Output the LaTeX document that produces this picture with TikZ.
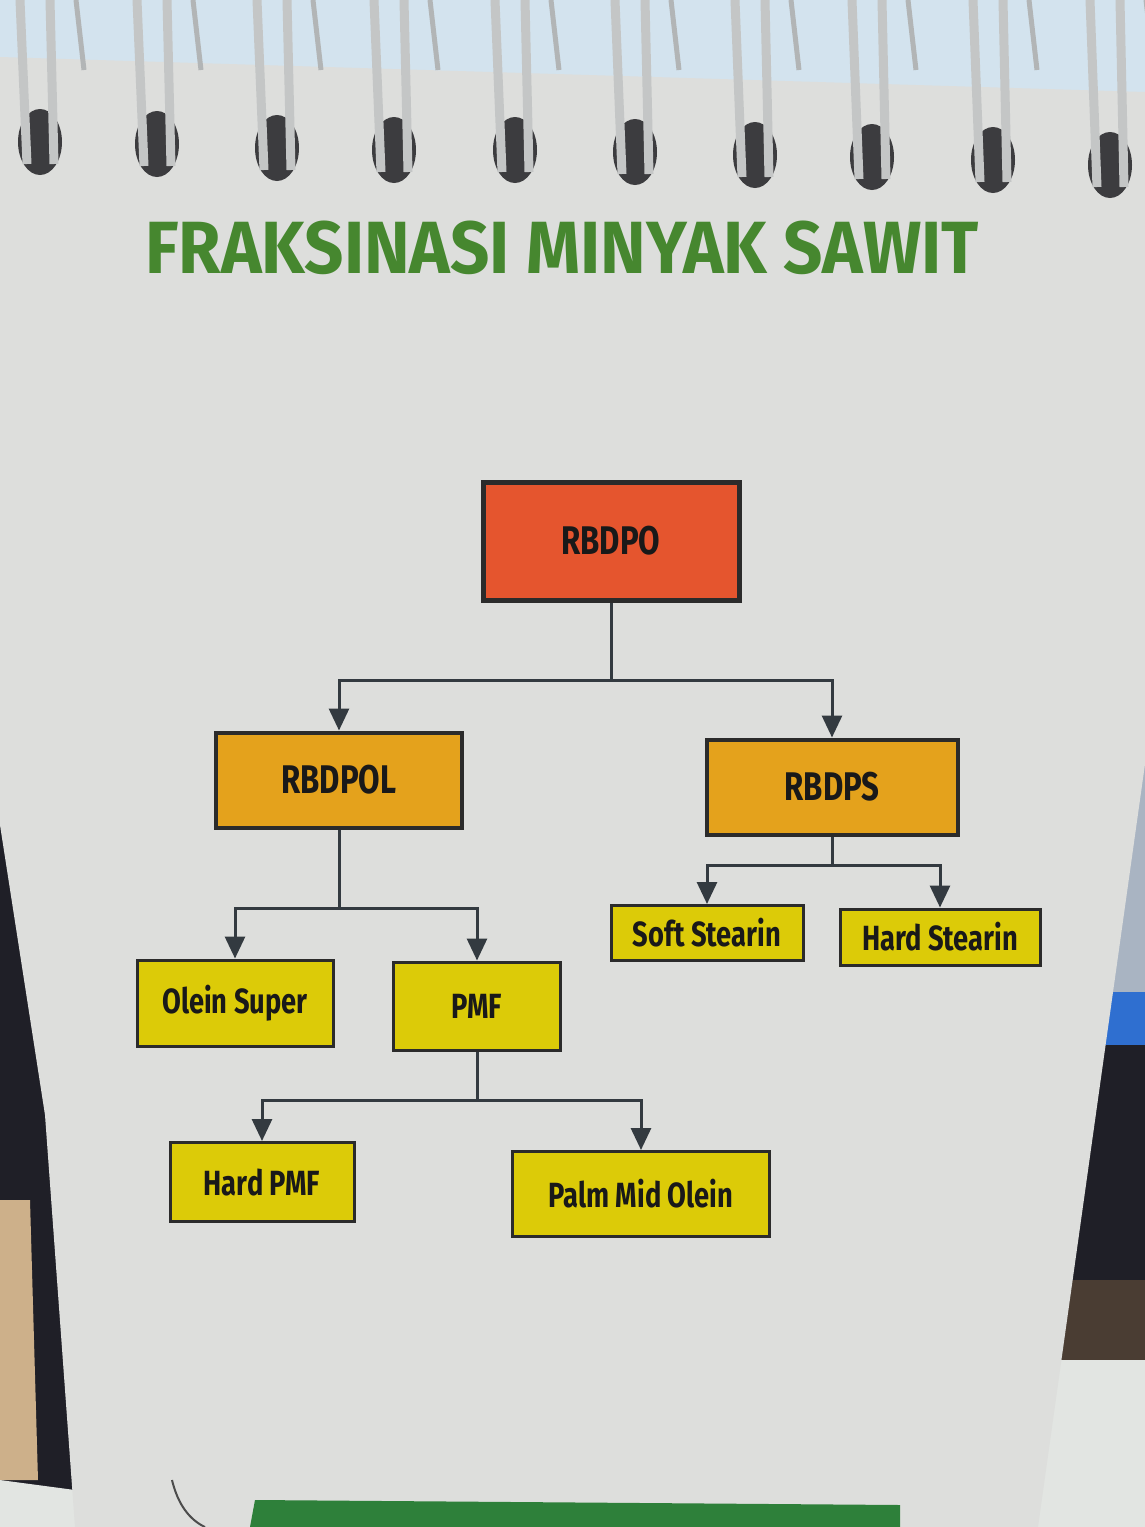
\documentclass[tikz,border=0pt]{standalone}
\usepackage{fontspec}
\usetikzlibrary{arrows.meta}
\newfontfamily\condfont[FakeStretch=0.78]{Fira Sans}
\newfontfamily\titlefont[FakeStretch=0.93]{Fira Sans}
\definecolor{pagegray}{HTML}{DDDEDC}
\definecolor{skyblue}{HTML}{D3E3EE}
\definecolor{titlegreen}{HTML}{46872F}
\definecolor{redorange}{HTML}{E5552E}
\definecolor{amber}{HTML}{E4A21C}
\definecolor{lemon}{HTML}{DCCB08}
\definecolor{edgedark}{HTML}{2B2B2B}
\definecolor{linedark}{HTML}{333A40}
\definecolor{wire}{HTML}{C4C6C6}
\definecolor{wireback}{HTML}{B2B5B6}
\definecolor{holedark}{HTML}{3C3C3F}
\definecolor{deskdark}{HTML}{1F1F27}
\definecolor{wood}{HTML}{CDB08A}
\definecolor{bluegray}{HTML}{A9B4C2}
\definecolor{screenblue}{HTML}{2F6FD0}
\definecolor{brownish}{HTML}{4A3D33}
\definecolor{lightdesk}{HTML}{E2E5E2}
\definecolor{bandgreen}{HTML}{2E803A}
\tikzset{
  boxbase/.style={rectangle, draw=edgedark, inner sep=0pt, text=black!90},
  topbox/.style={boxbase, fill=redorange, line width=2.5pt, font=\condfont\bfseries\fontsize{20}{22}\selectfont},
  midbox/.style={boxbase, fill=amber, line width=2pt, font=\condfont\bfseries\fontsize{20}{22}\selectfont},
  leafbox/.style={boxbase, fill=lemon, line width=1.5pt, font=\condfont\bfseries\fontsize{17.5}{20}\selectfont},
  conn/.style={draw=linedark, line width=1.5pt},
  arr/.style={conn, -{Triangle[width=10pt,length=11pt]}}
}
\begin{document}
\begin{tikzpicture}[x=0.5pt,y=-0.5pt]
\useasboundingbox (0,0) rectangle (1145,1527);
% surroundings
\fill[skyblue] (0,0) rectangle (1145,100);
\fill[bluegray] (1145,700) rectangle (1000,992);
\fill[screenblue] (1145,992) rectangle (1000,1045);
\fill[deskdark] (1145,1045) rectangle (1000,1280);
\fill[brownish] (1145,1280) rectangle (1000,1360);
\fill[lightdesk] (1145,1360) rectangle (1000,1527);
\fill[deskdark] (0,820) -- (80,820) -- (80,1527) -- (0,1527) -- cycle;
\fill[wood] (0,1200) -- (30,1200) -- (38,1480) -- (0,1480) -- cycle;
\fill[lightdesk] (0,1480) -- (75,1490) -- (75,1527) -- (0,1527) -- cycle;
% page
\fill[pagegray] (0,57) -- (1145,92) -- (1145,764) -- (1038,1527) -- (75,1527) -- (45,1115) -- (0,825) -- cycle;
% spiral binding holes and wires
\foreach \hx/\hy in {40/142,157/144,277/148,394/150,515/150,635/152,755/155,872/157,993/160,1110/165}{
  \fill[holedark] (\hx,\hy) ellipse [x radius=22, y radius=33];
  \draw[wireback, line width=2.5pt] (\hx+36,0) -- (\hx+44,70);
  \draw[wire, line width=4.5pt] (\hx-20,0) -- (\hx-13,\hy+22);
  \draw[wire, line width=4.5pt] (\hx+10,0) -- (\hx+14,\hy+22);
}
% title
\node[font=\titlefont\bfseries\fontsize{37}{40}\selectfont, text=titlegreen] (title) at (562,248) {FRAKSINASI MINYAK SAWIT};
% boxes
\node[topbox, minimum width=128pt, minimum height=59pt] (rbdpo) at (611,541) {RBDPO};
\node[midbox, minimum width=123pt, minimum height=47.5pt] (rbdpol) at (339,780) {RBDPOL};
\node[midbox, minimum width=125.5pt, minimum height=47.5pt] (rbdps) at (832,787) {RBDPS};
\node[leafbox, minimum width=98pt, minimum height=43pt] (olein) at (235,1003) {Olein Super};
\node[leafbox, minimum width=83.5pt, minimum height=44pt] (pmf) at (477,1006) {PMF};
\node[leafbox, minimum width=96pt, minimum height=27.5pt] (soft) at (707,933) {Soft Stearin};
\node[leafbox, minimum width=100pt, minimum height=28pt] (hard) at (940,937) {Hard Stearin};
\node[leafbox, minimum width=92pt, minimum height=39.5pt] (hpmf) at (262,1182) {Hard PMF};
\node[leafbox, minimum width=128.5pt, minimum height=42.5pt] (pmo) at (641,1194) {Palm Mid Olein};
% junctions
\coordinate (j1) at (611,680);
\coordinate (j2) at (339,908);
\coordinate (j3) at (832,865);
\coordinate (j4) at (477,1100);
% connectors
\draw[conn] (rbdpo.south) -- (j1);
\draw[arr] (j1) -| (rbdpol.north);
\draw[arr] (j1) -| (rbdps.north);
\draw[conn] (rbdpol.south) -- (j2);
\draw[arr] (j2) -| (olein.north);
\draw[arr] (j2) -| (pmf.north);
\draw[conn] (rbdps.south) -- (j3);
\draw[arr] (j3) -| (soft.north);
\draw[arr] (j3) -| (hard.north);
\draw[conn] (pmf.south) -- (j4);
\draw[arr] (j4) -| (hpmf.north);
\draw[arr] (j4) -| (pmo.north);
% bottom green band and arc
\fill[bandgreen] (255,1500) -- (900,1505) -- (900,1527) -- (250,1527) -- cycle;
\draw[black!70, line width=1pt] (172,1480) .. controls (178,1505) and (190,1520) .. (205,1527);
\end{tikzpicture}
\end{document}
